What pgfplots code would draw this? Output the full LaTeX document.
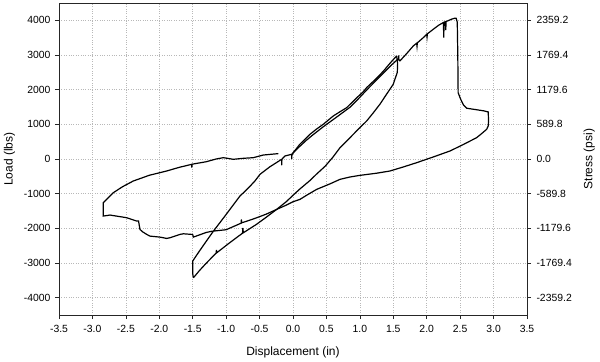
\documentclass[border=0pt]{standalone}
\usepackage{pgfplots}
\pgfplotsset{compat=1.18}
\usepackage{fontspec}
\setmainfont{Liberation Sans}
\begin{document}
\begin{tikzpicture}
\pgfplotsset{
  common/.style={
    at={(0,0)}, anchor=south west,
    width=468bp, height=312bp, scale only axis,
    tick align=outside, major tick length=4bp,
    axis line style={black!85, line width=0.8bp},
    tick style={black!85, line width=0.7bp},
    tick label style={font=\fontsize{10.4bp}{12bp}\selectfont},
    label style={font=\fontsize{12bp}{14bp}\selectfont},
  }
}
\begin{axis}[common,
  xmin=-3.5, xmax=3.5, ymin=-4500, ymax=4500,
  xtick={-3.5,-3,-2.5,-2,-1.5,-1,-0.5,0,0.5,1,1.5,2,2.5,3,3.5},
  xticklabels={-3.5,-3.0,-2.5,-2.0,-1.5,-1.0,-0.5,0.0,0.5,1.0,1.5,2.0,2.5,3.0,3.5},
  ytick={-4000,-3000,-2000,-1000,0,1000,2000,3000,4000},
  yticklabels={-4000,-3000,-2000,-1000,0,1000,2000,3000,4000},
  xtick pos=lower, ytick pos=left,
  xticklabel style={yshift=-3bp},
  yticklabel style={xshift=-1bp},
  grid=major, major grid style={black!28, dotted, line width=0.6bp},
  xlabel={Displacement (in)}, ylabel={Load (lbs)},
  xlabel style={yshift=-7bp}, ylabel style={yshift=2bp},
]
\addplot[black, line width=1.2bp] coordinates {
(-0.02,120) (0.004,182) (0.10,420) (0.254,713) (0.35,860) (0.453,1002) (0.603,1242) (0.70,1360) (0.803,1481) (0.95,1760) (1.05,1940) (1.102,2059) (1.25,2330) (1.35,2530) (1.45,2760) (1.55,2974)
};
\addplot[black, line width=1.2bp] coordinates {
(1.55,2974) (1.565,2750) (1.56,2500) (1.53,2330) (1.50,2157) (1.40,1870) (1.30,1580) (1.20,1330) (1.102,1097) (1.0,904) (0.85,610) (0.703,326) (0.60,60) (0.48,-210) (0.35,-440) (0.254,-620) (0.10,-870) (0.004,-1040) (-0.1,-1230) (-0.244,-1453) (-0.40,-1680) (-0.55,-1890) (-0.743,-2128) (-0.75,-1990) (-0.755,-2140) (-0.95,-2420) (-1.141,-2706) (-1.145,-2620) (-1.15,-2715) (-1.30,-3010) (-1.40,-3220) (-1.49,-3427)
};
\addplot[black, line width=1.2bp] coordinates {
(-1.49,-3427) (-1.50,-3300) (-1.50,-2945) (-1.45,-2800) (-1.40,-2657) (-1.30,-2380) (-1.19,-2080) (-1.0,-1600) (-0.793,-1068) (-0.75,-990) (-0.65,-800) (-0.57,-635) (-0.494,-443) (-0.35,-230) (-0.17,-9) (-0.17,-180) (-0.165,-5) (-0.12,87) (-0.02,135) (-0.02,0) (-0.015,140) (0.054,280) (0.20,540) (0.30,700) (0.453,930) (0.653,1210) (0.85,1490) (1.0,1780) (1.102,1990) (1.25,2280) (1.4,2570) (1.50,2760) (1.575,2890) (1.58,2990) (1.585,2850) (1.60,2830) (1.70,3041) (1.80,3263) (1.85,3340) (1.855,3250) (1.86,3350) (1.95,3503) (2.0,3600) (2.005,3520) (2.01,3610) (2.10,3745) (2.18,3860) (2.25,3937) (2.255,3503) (2.26,3945) (2.28,3960) (2.285,3720) (2.29,3965) (2.373,4034) (2.42,4063) (2.44,4060) (2.457,3950) (2.465,3000) (2.47,1915) (2.50,1760) (2.52,1675) (2.55,1560) (2.60,1464) (2.75,1420) (2.85,1390) (2.92,1357) (2.925,1100) (2.92,953) (2.897,857) (2.82,730) (2.747,616) (2.55,420) (2.348,231) (2.1,60) (1.85,-106) (1.65,-230) (1.45,-346) (1.25,-410) (1.0,-472) (0.85,-520) (0.703,-587) (0.55,-720) (0.354,-876) (0.20,-1050) (0.104,-1165) (0.004,-1230) (-0.10,-1330) (-0.244,-1453) (-0.40,-1590) (-0.55,-1700) (-0.70,-1800) (-0.77,-1840) (-0.772,-1742) (-0.775,-1850) (-0.893,-1950) (-1.0,-2040) (-1.216,-2085) (-1.30,-2120) (-1.49,-2253) (-1.50,-2180) (-1.515,-2175) (-1.64,-2157) (-1.69,-2175) (-1.84,-2272) (-1.89,-2291) (-1.989,-2253) (-2.14,-2224) (-2.188,-2175) (-2.25,-2100) (-2.289,-2031) (-2.31,-1790) (-2.338,-1790) (-2.487,-1694) (-2.737,-1617) (-2.837,-1646) (-2.837,-1262) (-2.75,-1090) (-2.688,-973) (-2.55,-800) (-2.389,-635) (-2.15,-470) (-1.89,-346) (-1.7,-240) (-1.515,-154) (-1.513,-250) (-1.51,-150) (-1.3,-80) (-1.15,0) (-1.043,38) (-0.95,10) (-0.893,-9) (-0.743,20) (-0.594,38) (-0.444,115) (-0.22,155)
};
\end{axis}
\begin{axis}[common,
  xmin=-3.5, xmax=3.5, ymin=-2654.1, ymax=2654.1,
  axis x line=none, axis y line*=right,
  ytick={-2359.2,-1769.4,-1179.6,-589.8,0,589.8,1179.6,1769.4,2359.2},
  yticklabels={-2359.2,-1769.4,-1179.6,-589.8,0.0,589.8,1179.6,1769.4,2359.2},
  yticklabel style={xshift=2bp},
  ylabel={Stress (psi)},
  ylabel style={yshift=-5bp},
]
\end{axis}
\path[use as bounding box] (-59bp,-47bp) rectangle (541bp,315bp);
\end{tikzpicture}
\end{document}
